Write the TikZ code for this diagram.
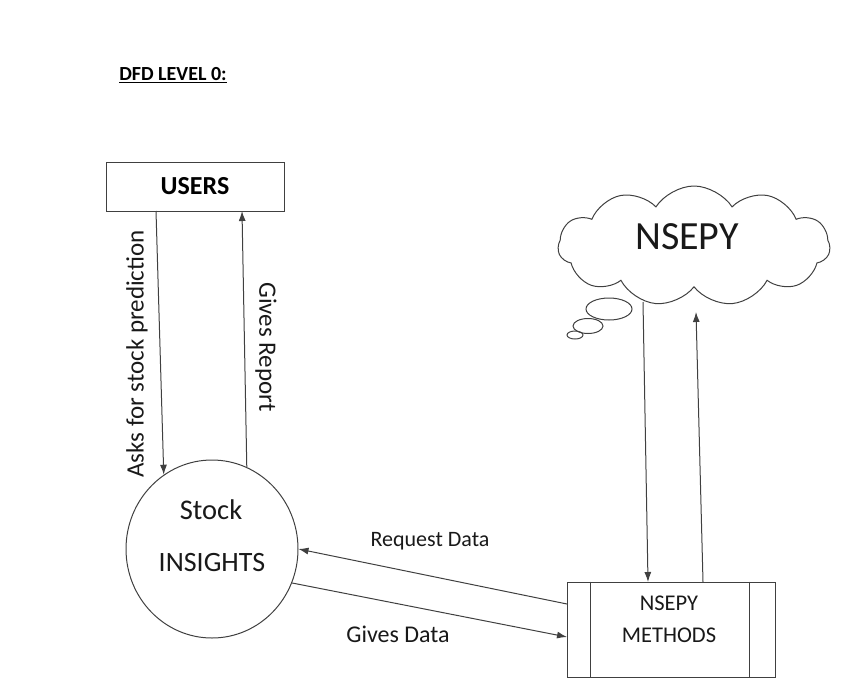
\documentclass[tikz,border=0pt]{standalone}
\usepackage{fontspec}
\setmainfont{Carlito}
\usetikzlibrary{shapes.symbols,shapes.geometric,arrows.meta,calc}
\begin{document}
\begin{tikzpicture}[x=1pt,y=-1pt,
  line/.style={draw=black!75,line width=1pt},
  flow/.style={line,-{Latex[length=10pt,width=7pt]}},
  lbl/.style={font=\fontsize{24}{27}\selectfont,text=black!90,inner sep=0pt}]
\useasboundingbox (0,0) rectangle (842,699);
\node[font=\bfseries\fontsize{20}{23}\selectfont,inner sep=0pt] (title) at (173,75) {\underline{DFD LEVEL 0:}};
\node[line,rectangle,minimum width=178pt,minimum height=49pt,font=\bfseries\fontsize{26}{30}\selectfont] (users) at (195,186.5) {USERS};
\node[line,ellipse,minimum width=172pt,minimum height=178pt,inner sep=0pt] (insights) at (212,549) {};
\node[lbl,font=\fontsize{28.5}{32}\selectfont] (stock) at (211,510) {Stock};
\node[lbl,font=\fontsize{28}{32}\selectfont] (ins) at (212,562) {INSIGHTS};
\node[line,cloud,cloud puffs=11,cloud puff arc=115,cloud ignores aspect,minimum width=272pt,minimum height=120pt,inner sep=0pt] (cloud) at (694,246) {};
\node[lbl,font=\fontsize{40}{44}\selectfont] (nsepy) at (687,237) {NSEPY};
\node[line,ellipse,minimum width=46pt,minimum height=22pt,inner sep=0pt] (b1) at (609,309) {};
\node[line,ellipse,minimum width=30pt,minimum height=15pt,inner sep=0pt] (b2) at (588,326) {};
\node[line,ellipse,minimum width=16pt,minimum height=8pt,inner sep=0pt] (b3) at (575,335) {};
\node[line,rectangle,minimum width=208pt,minimum height=95pt] (methods) at (671,629.5) {};
\draw[line] ($(methods.north west)+(24,0)$) -- ($(methods.south west)+(24,0)$);
\draw[line] ($(methods.north east)+(-26,0)$) -- ($(methods.south east)+(-26,0)$);
\node[lbl,font=\fontsize{22.5}{25}\selectfont] (m1) at (669,603) {NSEPY};
\node[lbl,font=\fontsize{22.5}{25}\selectfont] (m2) at (669,635) {METHODS};
% connector end points
\coordinate (u1) at (156,211);
\coordinate (u2) at (242,211);
\coordinate (c1) at (643,302);
\coordinate (c2) at (696,312);
\coordinate (t1) at (648,582);
\coordinate (t2) at (703,582);
\coordinate (l1) at (567,604);
\coordinate (l2) at (567,637);
\draw[flow] (u1) -- (insights.123);
\draw[flow] (insights.67) -- (u2);
\draw[flow] (c1) -- (t1);
\draw[flow] (t2) -- (c2);
\draw[flow] (l1) -- (insights.east);
\draw[flow] (insights.-23) -- (l2);
\node[lbl,font=\fontsize{25}{28}\selectfont,rotate=90] (asks) at (137,354) {Asks for stock prediction};
\node[lbl,font=\fontsize{25}{28}\selectfont,rotate=-90] (gives) at (266,347) {Gives Report};
\node[lbl,font=\fontsize{22}{25}\selectfont] (req) at (430,541) {Request Data};
\node[lbl] (gd) at (398,634) {Gives Data};
\end{tikzpicture}
\end{document}
